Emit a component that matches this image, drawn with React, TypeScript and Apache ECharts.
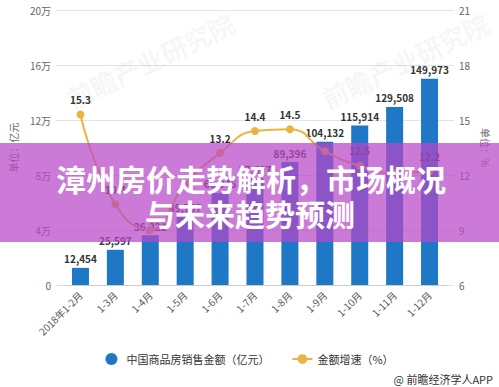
import React, { useEffect, useRef } from "react";
import * as echarts from "echarts";

const categories = ["2018年1-2月", "1-3月", "1-4月", "1-5月", "1-6月", "1-7月", "1-8月", "1-9月", "1-10月", "1-11月", "1-12月"];
const salesValues = [12454, 25597, 36222, 49707, 66945, 77697, 89396, 104132, 115914, 129508, 149973];
const growthValues = [15.3, 10.4, 9.0, 11.5, 13.2, 14.4, 14.5, 13.3, 12.5, 12.1, 12.2];
const hiddenGrowthLabels = [2, 3, 7, 9];
const leftTicks = { min: 0, max: 200000, interval: 40000 };
const rightTicks = { min: 6, max: 21, interval: 3 };
const titleLines = ["漳州房价走势解析，市场概况", "与未来趋势预测"];

const FONT = '"Noto Sans CJK SC", "Noto Sans", sans-serif';

export default function App() {
  const ref = useRef<HTMLDivElement>(null);
  useEffect(() => {
    document.body.style.margin = "0";
    if (!ref.current) return;
    const chart = echarts.init(ref.current, null, { renderer: "svg" });
    const wm = { fill: "rgba(150,165,190,0.10)", fontSize: 26, fontWeight: "bold", fontFamily: FONT, textAlign: "center", textVerticalAlign: "middle" };
    chart.setOption({
      animation: false,
      backgroundColor: "#ffffff",
      textStyle: { fontFamily: FONT },
      grid: { left: 54, right: 42, top: 10, bottom: 102, containLabel: false },
      legend: {
        bottom: 17,
        left: "center",
        itemGap: 22,
        itemWidth: 20,
        itemHeight: 12,
        textStyle: { fontSize: 11, color: "#333", fontFamily: FONT },
        data: [
          { name: "中国商品房销售金额（亿元）", icon: "circle" },
          { name: "金额增速（%）" },
        ],
      },
      xAxis: {
        type: "category",
        data: categories,
        axisLine: { lineStyle: { color: "#cccccc" } },
        axisTick: { alignWithLabel: true, lineStyle: { color: "#cccccc" }, length: 4 },
        axisLabel: { rotate: 45, fontSize: 10, color: "#555", margin: 8, interval: 0, fontFamily: FONT },
      },
      yAxis: [
        {
          type: "value",
          min: leftTicks.min,
          max: leftTicks.max,
          interval: leftTicks.interval,
          name: "单位：亿元",
          nameLocation: "middle",
          nameRotate: 90,
          nameGap: 45,
          nameTextStyle: { fontSize: 10, color: "#666", fontFamily: FONT },
          axisLine: { show: false },
          axisTick: { show: true, length: 7, lineStyle: { color: "#e3e3e3" } },
          axisLabel: {
            fontSize: 10,
            color: "#666",
            margin: 12,
            formatter: (v: number) => (v === 0 ? "0" : v / 10000 + "万"),
          },
          splitLine: { lineStyle: { color: "#e3e3e3" } },
        },
        {
          type: "value",
          min: rightTicks.min,
          max: rightTicks.max,
          interval: rightTicks.interval,
          name: "单位：%",
          nameLocation: "middle",
          nameRotate: -90,
          nameGap: 32,
          nameTextStyle: { fontSize: 10, color: "#666", fontFamily: FONT },
          axisLine: { show: false },
          axisTick: { show: true, length: 7, lineStyle: { color: "#e3e3e3" } },
          axisLabel: { fontSize: 10, color: "#666", margin: 12 },
          splitLine: { show: false },
        },
      ],
      series: [
        {
          name: "中国商品房销售金额（亿元）",
          type: "bar",
          data: salesValues,
          barWidth: 17,
          itemStyle: { color: "#1f78c6" },
          label: {
            show: true,
            position: "top",
            fontSize: 10,
            fontWeight: "bold",
            color: "#333",
            distance: 4,
            formatter: (p: any) => Number(p.value).toLocaleString("en-US"),
          },
        },
        {
          name: "金额增速（%）",
          type: "line",
          yAxisIndex: 1,
          data: growthValues.map((v, i) =>
            hiddenGrowthLabels.includes(i) ? { value: v, label: { show: false } } : v
          ),
          smooth: true,
          symbol: "circle",
          symbolSize: 8,
          itemStyle: { color: "#ebb43e" },
          lineStyle: { color: "#ebb43e", width: 2 },
          label: {
            show: true,
            position: "top",
            fontSize: 10,
            fontWeight: "bold",
            color: "#333",
            distance: 6,
            formatter: (p: any) => Number(p.value).toFixed(1),
          },
          z: 5,
        },
      ],
      graphic: [
        { type: "text", x: 150, y: 60, rotation: Math.PI / 7, z: 1, silent: true, style: { text: "前瞻产业研究院", ...wm } },
        { type: "text", x: 405, y: 60, rotation: Math.PI / 7, z: 1, silent: true, style: { text: "前瞻产业研究院", ...wm } },
        {
          type: "rect",
          shape: { x: 0, y: 143, width: 499, height: 99 },
          style: { fill: "rgba(185,70,200,0.72)" },
          z: 100,
          silent: true,
        },
        {
          type: "text",
          x: 251,
          y: 178,
          z: 101,
          silent: true,
          style: { text: titleLines[0], fill: "#ffffff", fontSize: 30, fontWeight: "bold", fontFamily: FONT, textAlign: "center", textVerticalAlign: "middle" },
        },
        {
          type: "text",
          x: 250,
          y: 213,
          z: 101,
          silent: true,
          style: { text: titleLines[1], fill: "#ffffff", fontSize: 30, fontWeight: "bold", fontFamily: FONT, textAlign: "center", textVerticalAlign: "middle" },
        },
        {
          type: "text",
          right: 6,
          bottom: 3,
          z: 101,
          silent: true,
          style: { text: "@ 前瞻经济学人APP", fill: "#333", fontSize: 11, fontFamily: FONT },
        },
      ],
    });
    return () => chart.dispose();
  }, []);
  return <div ref={ref} style={{ width: 499, height: 387 }} />;
}
